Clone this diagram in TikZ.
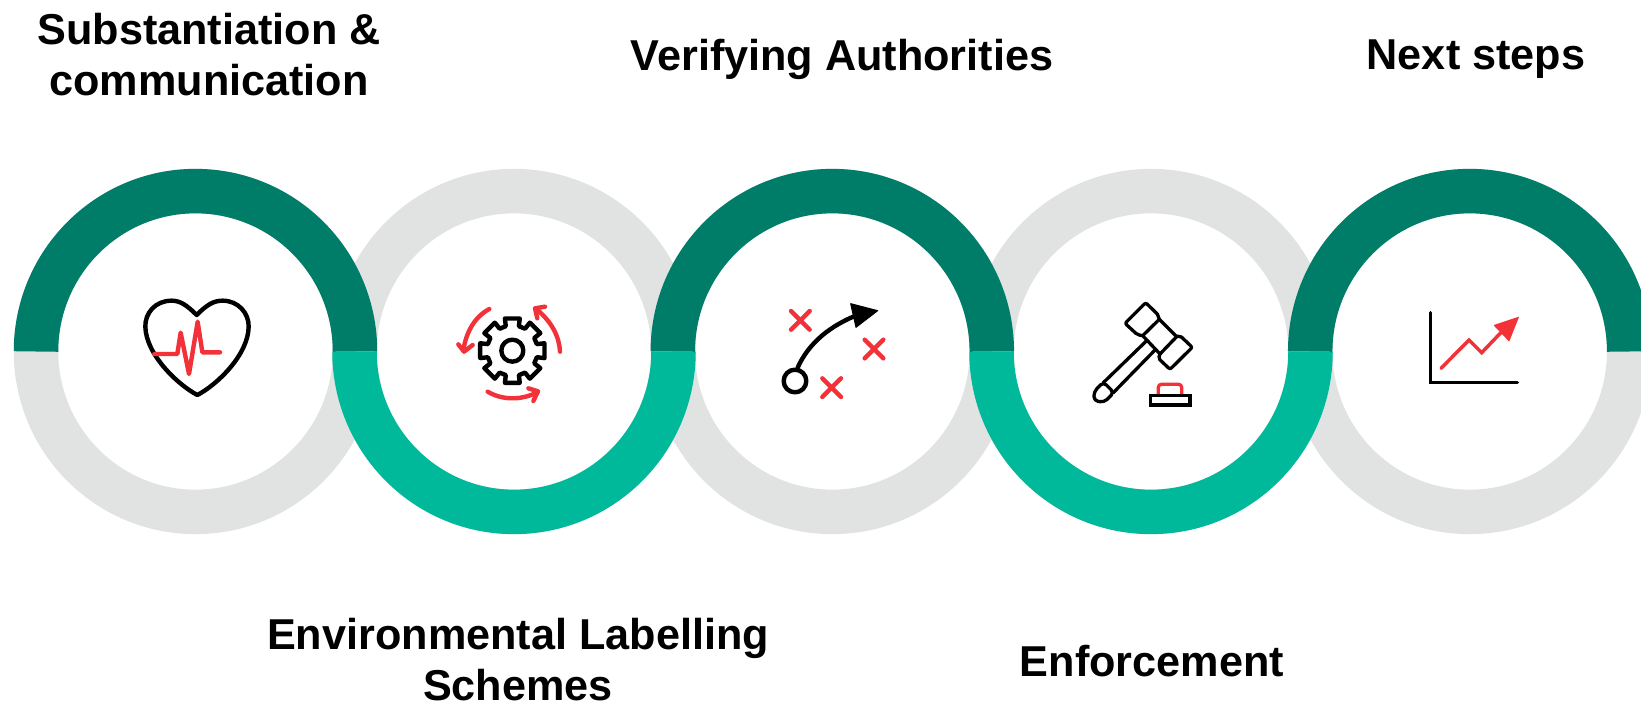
\documentclass[tikz,border=0pt]{standalone}
\usepackage{fontspec}
\setmainfont{Liberation Sans}
\definecolor{ringdark}{HTML}{007D68}
\definecolor{ringteal}{HTML}{00B99B}
\definecolor{ringgray}{HTML}{E1E3E2}
\definecolor{iconred}{HTML}{F23238}
\tikzset{
  graybase/.style={draw=ringgray,line width=44.5pt},
  darkarc/.style={draw=ringdark,line width=44.5pt},
  tealarc/.style={draw=ringteal,line width=44.5pt},
  title/.style={font=\fontsize{43.2}{51}\selectfont\bfseries,align=center,text=black,inner sep=0pt,anchor=center},
  ink/.style={draw=black,line width=4.4pt,line join=round,line cap=round},
  redink/.style={draw=iconred,line width=4.4pt,line join=round,line cap=round},
  thinink/.style={draw=black,line width=3.3pt,line join=round,line cap=round},
  icon/.style={x=.33333pt,y=-.33333pt},
}
\begin{document}
\begin{tikzpicture}[x=1pt,y=-1pt]
\path[use as bounding box,fill=white] (0,0) rectangle (1641,704);
\begin{scope}
\clip (0,0) rectangle (1641,704);
\foreach \cx in {195.5,514,832.3,1151,1469.7}
  \draw[graybase] (\cx,351.5) ellipse[x radius=159.5,y radius=160.4];
\foreach \cx in {195.5,832.3,1469.7}
  \draw[darkarc] (\cx-159.5,351.5) arc[start angle=180,end angle=360,x radius=159.5,y radius=160.4];
\foreach \cx in {514,1151}
  \draw[tealarc] (\cx-159.5,351.5) arc[start angle=180,end angle=0,x radius=159.5,y radius=160.4];
\end{scope}

% labels
\node[title] (t1) at (209,55) {Substantiation \&\\communication};
\node[title] (t2) at (842,59) {Verifying Authorities};
\node[title] (t3) at (1476,59) {Next steps};
\node[title] (t4) at (518,660) {Environmental Labelling\\Schemes};
\node[title] (t5) at (1152,661) {Enforcement};

% heart
\begin{scope}[shift={(120,280)},icon]
\draw[ink] (230,105) .. controls (200,75) and (180,62) .. (155,62)
  .. controls (105,62) and (75,100) .. (76,140)
  .. controls (78,225) and (175,315) .. (232,345)
  .. controls (290,315) and (385,225) .. (386,140)
  .. controls (387,100) and (355,62) .. (308,62)
  .. controls (280,62) and (260,75) .. (230,105) -- cycle;
\draw[redink] (103,222) -- (172,222) -- (182,158) -- (207,282) -- (233,125) -- (247,217) -- (300,217);
\end{scope}

% gear
\begin{scope}[shift={(440,280)},icon]
\begin{scope}[shift={(217,212)}]
\draw[ink] (-13:99) \foreach \a in {0,45,...,315} { -- ({\a-13}:99) -- ({\a+13}:99) -- ({\a+15}:76) -- ({\a+30}:76)} -- cycle;
\draw[ink] (0,0) circle[radius=33];
\end{scope}
\draw[redink] (148,87) .. controls (105,110) and (78,155) .. (70,212);
\draw[redink] (55,193) -- (72,215) -- (98,195);
\draw[redink] (360,215) .. controls (358,170) and (335,125) .. (290,88);
\draw[redink] (315,80) -- (285,85) -- (292,115);
\draw[redink] (143,335) .. controls (185,360) and (240,362) .. (290,338);
\draw[redink] (265,325) -- (294,334) -- (280,363);
\end{scope}

% strategy arrow
\begin{scope}[shift={(760,280)},icon]
\draw[ink] (105,303) circle[radius=34];
\draw[ink,line cap=butt] (112,265) .. controls (145,190) and (210,135) .. (305,100);
\fill[black,draw=black,line width=1pt,line join=round] (272,71) -- (353,92) -- (288,142) -- cycle;
\draw[redink] (93,93) -- (149,149) (149,93) -- (93,149);
\draw[redink] (314,179) -- (370,235) (370,179) -- (314,235);
\draw[redink] (187,295) -- (243,351) (243,295) -- (187,351);
\end{scope}

% gavel
\begin{scope}[shift={(1080,290)},icon]
\draw[thinink,rounded corners=2pt] (232,72) -- (197,38) -- (135,100) -- (172,134) -- (188,137);
\draw[thinink] (232,72) -- (238,88) -- (290,140);
\draw[thinink] (188,137) -- (238,88);
\draw[thinink] (188,137) -- (240,192);
\draw[thinink] (240,192) -- (290,140);
\draw[thinink,rounded corners=2pt] (290,140) -- (300,137) -- (337,172) -- (270,238) -- (235,205) -- (240,192);
\draw[thinink] (200,152) -- (70,278);
\draw[thinink] (225,180) -- (100,308);
\draw[thinink,rounded corners=4pt] (70,276) -- (102,308) -- (72,337) -- (42,332) -- (42,305) -- cycle;
\draw[thinink,line join=miter] (211,316) rectangle (330,345);
\draw[draw=iconred,line width=3.3pt,rounded corners=3pt] (235,312) -- (235,283) -- (305,283) -- (305,312);
\end{scope}

% chart
\begin{scope}[shift={(1410,290)},icon]
\draw[draw=black,line width=3.5pt,line join=miter,line cap=round] (62,68) -- (62,277) -- (322,277);
\draw[draw=iconred,line width=3.5pt,line join=miter,line cap=round] (93,235) -- (177,150) -- (215,188) -- (285,115);
\fill[iconred,draw=iconred,line width=1pt,line join=round] (325,82) -- (253,106) -- (297,152) -- cycle;
\end{scope}
\end{tikzpicture}
\end{document}
